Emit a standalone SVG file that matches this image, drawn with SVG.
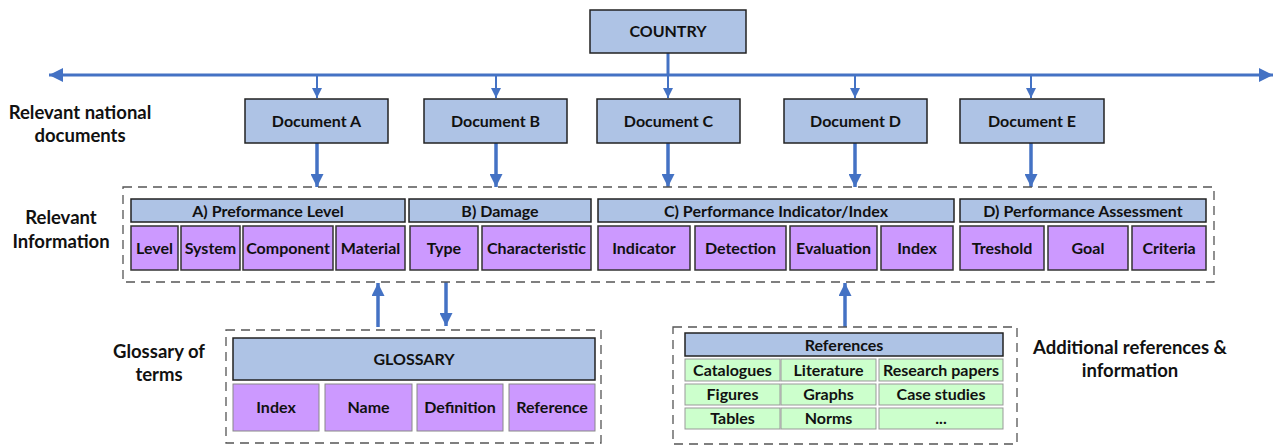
<svg xmlns="http://www.w3.org/2000/svg" width="1274" height="445" viewBox="0 0 1274 445">
<style>
text{font-family:Lato,"Liberation Sans",sans-serif;font-weight:bold;font-size:16px;fill:#111;text-anchor:middle}
.lbl{font-size:18.5px}
.blue{fill:#aec3e5;stroke:#222;stroke-width:1.5}
.pur{fill:#cc99ff;stroke:#333;stroke-width:1.5}
.pur2{fill:#cc99ff;stroke:#888;stroke-width:1}
.grn{fill:#ccffcc;stroke:#999;stroke-width:1}
.dash{fill:none;stroke:#555;stroke-width:1.3;stroke-dasharray:9 6}
.c{stroke:#4472c4;fill:none}
.thin{stroke-width:2;marker-end:url(#ahS)}
.thick{stroke-width:3.5;marker-end:url(#ahL)}
</style>
<defs>
<marker id="ahS" viewBox="0 0 10 10" refX="10" refY="5" markerUnits="userSpaceOnUse" markerWidth="11" markerHeight="10" orient="auto"><path d="M0,0L10,5L0,10z" fill="#4472c4"/></marker>
<marker id="ahL" viewBox="0 0 10 10" refX="10" refY="5" markerUnits="userSpaceOnUse" markerWidth="14" markerHeight="13" orient="auto"><path d="M0,0L10,5L0,10z" fill="#4472c4"/></marker>
<marker id="ahH" viewBox="0 0 10 10" refX="10" refY="5" markerUnits="userSpaceOnUse" markerWidth="20" markerHeight="14" orient="auto-start-reverse"><path d="M0,0L10,5L0,10z" fill="#4472c4"/></marker>
</defs>
<rect width="1274" height="445" fill="#fff"/>

<g id="labels">
<text class="lbl" x="80" y="119">Relevant national</text>
<text class="lbl" x="80" y="142">documents</text>
<text class="lbl" x="61" y="224">Relevant</text>
<text class="lbl" x="61" y="248">Information</text>
<text class="lbl" x="159" y="358">Glossary of</text>
<text class="lbl" x="159" y="381">terms</text>
<text class="lbl" x="1130" y="354">Additional references &amp;</text>
<text class="lbl" x="1130" y="377">information</text>
</g>

<g id="connectors">
<line class="c" x1="49" y1="75" x2="1273" y2="75" stroke-width="3" marker-start="url(#ahH)" marker-end="url(#ahH)"/>
<line class="c" x1="668" y1="53" x2="668" y2="75" stroke-width="3"/>
<line class="c thin" x1="317" y1="75" x2="317" y2="98"/>
<line class="c thin" x1="496" y1="75" x2="496" y2="98"/>
<line class="c thin" x1="668" y1="75" x2="668" y2="98"/>
<line class="c thin" x1="855" y1="75" x2="855" y2="98"/>
<line class="c thin" x1="1031" y1="75" x2="1031" y2="98"/>
<line class="c thick" x1="317" y1="143" x2="317" y2="187"/>
<line class="c thick" x1="496" y1="143" x2="496" y2="187"/>
<line class="c thick" x1="668" y1="143" x2="668" y2="187"/>
<line class="c thick" x1="855" y1="143" x2="855" y2="187"/>
<line class="c thick" x1="1031" y1="143" x2="1031" y2="187"/>
<line class="c thick" x1="378" y1="327" x2="378" y2="283"/>
<line class="c thick" x1="446" y1="282" x2="446" y2="326"/>
<line class="c thick" x1="845" y1="327" x2="845" y2="283"/>
</g>

<g id="country"><rect class="blue" x="590" y="10" width="156" height="43"/><text x="668" y="37">COUNTRY</text></g>

<g id="docA"><rect class="blue" x="245" y="99" width="143" height="44"/><text x="316.5" y="126.5">Document A</text></g>
<g id="docB"><rect class="blue" x="424" y="99" width="143" height="44"/><text x="495.5" y="126.5">Document B</text></g>
<g id="docC"><rect class="blue" x="597" y="99" width="143" height="44"/><text x="668.5" y="126.5">Document C</text></g>
<g id="docD"><rect class="blue" x="784" y="99" width="143" height="44"/><text x="855.5" y="126.5">Document D</text></g>
<g id="docE"><rect class="blue" x="960" y="99" width="144" height="44"/><text x="1032" y="126.5">Document E</text></g>

<g id="info">
<rect class="dash" x="123" y="187" width="1091" height="95"/>
<g id="hdrA"><rect class="blue" x="131" y="199" width="274" height="23"/><text x="268" y="216.5">A) Preformance Level</text></g>
<g id="hdrB"><rect class="blue" x="409" y="199" width="182" height="23"/><text x="500" y="216.5">B) Damage</text></g>
<g id="hdrC"><rect class="blue" x="598" y="199" width="356" height="23"/><text x="776" y="216.5">C) Performance Indicator/Index</text></g>
<g id="hdrD"><rect class="blue" x="960" y="199" width="246" height="23"/><text x="1083" y="216.5">D) Performance Assessment</text></g>
<g id="cLevel"><rect class="pur" x="131" y="226" width="47" height="44"/><text x="154.5" y="253.5">Level</text></g>
<g id="cSystem"><rect class="pur" x="181" y="226" width="59" height="44"/><text x="210.5" y="253.5">System</text></g>
<g id="cComponent"><rect class="pur" x="243" y="226" width="90" height="44"/><text x="288" y="253.5">Component</text></g>
<g id="cMaterial"><rect class="pur" x="336" y="226" width="69" height="44"/><text x="370.5" y="253.5">Material</text></g>
<g id="cType"><rect class="pur" x="410" y="226" width="68" height="44"/><text x="444" y="253.5">Type</text></g>
<g id="cChar"><rect class="pur" x="482" y="226" width="109" height="44"/><text x="536.5" y="253.5">Characteristic</text></g>
<g id="cIndicator"><rect class="pur" x="598" y="226" width="92" height="44"/><text x="644" y="253.5">Indicator</text></g>
<g id="cDetection"><rect class="pur" x="695" y="226" width="91" height="44"/><text x="740.5" y="253.5">Detection</text></g>
<g id="cEvaluation"><rect class="pur" x="790" y="226" width="87" height="44"/><text x="833.5" y="253.5">Evaluation</text></g>
<g id="cIndex"><rect class="pur" x="881" y="226" width="72" height="44"/><text x="917" y="253.5">Index</text></g>
<g id="cTreshold"><rect class="pur" x="960" y="226" width="84" height="44"/><text x="1002" y="253.5">Treshold</text></g>
<g id="cGoal"><rect class="pur" x="1048" y="226" width="80" height="44"/><text x="1088" y="253.5">Goal</text></g>
<g id="cCriteria"><rect class="pur" x="1132" y="226" width="74" height="44"/><text x="1169" y="253.5">Criteria</text></g>
</g>

<g id="glossary">
<rect class="dash" x="226" y="330" width="375" height="113"/>
<g id="gHdr"><rect class="blue" x="233" y="338" width="362" height="42"/><text x="414" y="364.5">GLOSSARY</text></g>
<g id="gIndex"><rect class="pur2" x="233" y="384" width="86" height="47"/><text x="276" y="413">Index</text></g>
<g id="gName"><rect class="pur2" x="325" y="384" width="87" height="47"/><text x="368.5" y="413">Name</text></g>
<g id="gDef"><rect class="pur2" x="417" y="384" width="86" height="47"/><text x="460" y="413">Definition</text></g>
<g id="gRef"><rect class="pur2" x="509" y="384" width="86" height="47"/><text x="552" y="413">Reference</text></g>
</g>

<g id="references">
<rect class="dash" x="673" y="327" width="344" height="117"/>
<g id="rHdr"><rect class="blue" x="685" y="333" width="318" height="23"/><text x="844" y="350.5">References</text></g>
<g id="r11"><rect class="grn" x="685" y="359" width="95" height="22"/><text x="732.5" y="375.5">Catalogues</text></g>
<g id="r12"><rect class="grn" x="781" y="359" width="95" height="22"/><text x="828.5" y="375.5">Literature</text></g>
<g id="r13"><rect class="grn" x="879" y="359" width="124" height="22"/><text x="941" y="375.5">Research papers</text></g>
<g id="r21"><rect class="grn" x="685" y="384" width="95" height="21"/><text x="732.5" y="400">Figures</text></g>
<g id="r22"><rect class="grn" x="781" y="384" width="95" height="21"/><text x="828.5" y="400">Graphs</text></g>
<g id="r23"><rect class="grn" x="879" y="384" width="124" height="21"/><text x="941" y="400">Case studies</text></g>
<g id="r31"><rect class="grn" x="685" y="408" width="95" height="21"/><text x="732.5" y="424">Tables</text></g>
<g id="r32"><rect class="grn" x="781" y="408" width="95" height="21"/><text x="828.5" y="424">Norms</text></g>
<g id="r33"><rect class="grn" x="879" y="408" width="124" height="21"/><text x="941" y="424">...</text></g>
</g>
</svg>
